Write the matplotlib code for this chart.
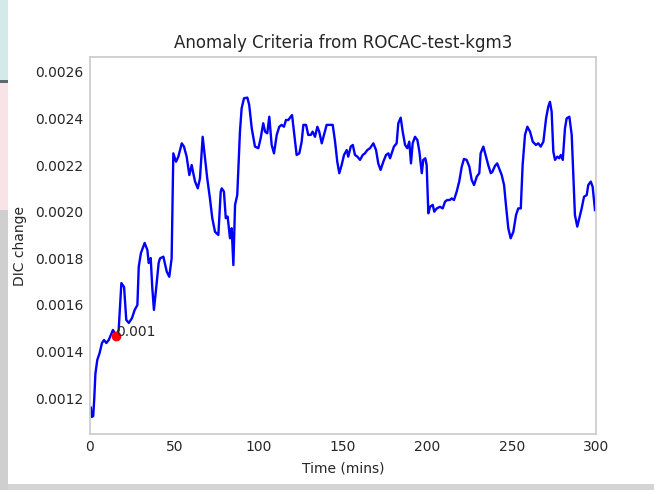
import numpy as np
import matplotlib
matplotlib.use("Agg")
import matplotlib.pyplot as plt
from matplotlib.patches import Rectangle

# Time since start (minutes) and the DIC change anomaly criterion
time_mins = [
    0.5, 1.0, 1.9, 2.5, 3.2, 4.3, 5.7, 7.1, 8.3, 9.7, 11.1, 12.3, 13.6, 14.6, 15.6,
    17.0, 18.6, 20.2, 21.5, 23.0, 24.9, 26.5, 28.1, 28.9, 30.2, 32.4, 34.0, 34.8,
    36.0, 36.9, 37.9, 39.3, 40.7, 41.5, 43.5, 45.5, 47.0, 48.4, 49.4, 51.0, 52.4,
    54.4, 55.7, 57.3, 58.9, 60.3, 61.2, 62.3, 63.9, 65.2, 66.8, 68.2, 69.5, 71.1,
    72.5, 74.1, 76.1, 77.5, 78.1, 79.4, 80.5, 81.6, 83.0, 84.0, 85.0, 86.0, 87.3,
    88.9, 89.9, 91.3, 93.3, 94.4, 95.9, 97.8, 99.8, 101.2, 102.7, 103.8, 105.1,
    106.3, 107.7, 109.1, 110.7, 112.2, 113.6, 115.0, 116.2, 117.6, 119.0, 119.8,
    120.9, 122.5, 124.1, 125.5, 126.5, 128.1, 129.4, 130.9, 132.0, 133.4, 134.8,
    135.9, 137.4, 138.7, 140.3, 142.3, 143.9, 145.3, 146.6, 147.8, 149.2, 150.6,
    152.2, 153.1, 154.6, 155.8, 157.1, 158.5, 160.1, 161.7, 163.0, 164.4, 166.0,
    168.0, 169.6, 170.9, 172.3, 173.9, 175.5, 176.9, 177.9, 180.2, 181.8, 182.8,
    184.2, 185.4, 186.8, 188.1, 189.3, 190.3, 191.3, 192.7, 194.1, 195.3, 196.7,
    197.6, 198.8, 199.6, 200.6, 201.6, 203.2, 204.1, 205.6, 207.5, 209.1, 210.5,
    211.8, 213.4, 214.4, 215.8, 217.4, 218.9, 220.4, 221.7, 223.3, 224.9, 226.3,
    227.7, 229.3, 230.8, 231.6, 233.2, 234.8, 236.1, 237.6, 238.5, 240.1, 241.4,
    244.1, 245.5, 246.6, 248.0, 249.4, 251.0, 252.6, 253.9, 255.4, 256.5, 257.9,
    259.3, 260.9, 262.5, 264.4, 265.8, 267.2, 268.8, 270.4, 271.7, 272.7, 273.7,
    274.7, 275.7, 277.1, 278.2, 279.1, 280.3, 281.6, 282.6, 284.2, 285.6, 286.5,
    287.5, 288.9, 290.1, 291.5, 292.9, 294.5, 295.4, 296.9, 298.0, 299.4,
]
dic_change = [
    0.001160, 0.001120, 0.001124, 0.001195, 0.001305, 0.001364, 0.001394, 0.001437,
    0.001450, 0.001437, 0.001450, 0.001471, 0.001493, 0.001480, 0.001467, 0.001493,
    0.001694, 0.001677, 0.001536, 0.001523, 0.001544, 0.001579, 0.001600, 0.001764,
    0.001823, 0.001866, 0.001836, 0.001780, 0.001801, 0.001677, 0.001579, 0.001677,
    0.001780, 0.001800, 0.001807, 0.001743, 0.001721, 0.001800, 0.002250, 0.002214,
    0.002236, 0.002293, 0.002279, 0.002236, 0.002157, 0.002200, 0.002166, 0.002129,
    0.002100, 0.002143, 0.002321, 0.002229, 0.002143, 0.002057, 0.001972, 0.001914,
    0.001900, 0.002086, 0.002100, 0.002086, 0.001972, 0.001979, 0.001886, 0.001929,
    0.001771, 0.002029, 0.002071, 0.002343, 0.002443, 0.002486, 0.002489, 0.002457,
    0.002357, 0.002279, 0.002272, 0.002315, 0.002379, 0.002343, 0.002336, 0.002407,
    0.002286, 0.002250, 0.002329, 0.002364, 0.002372, 0.002364, 0.002393, 0.002393,
    0.002407, 0.002414, 0.002343, 0.002243, 0.002250, 0.002300, 0.002372, 0.002372,
    0.002329, 0.002329, 0.002343, 0.002321, 0.002364, 0.002343, 0.002293, 0.002329,
    0.002372, 0.002372, 0.002372, 0.002300, 0.002214, 0.002165, 0.002200, 0.002243,
    0.002264, 0.002236, 0.002279, 0.002286, 0.002243, 0.002236, 0.002222, 0.002243,
    0.002250, 0.002264, 0.002272, 0.002293, 0.002264, 0.002207, 0.002179, 0.002214,
    0.002243, 0.002250, 0.002229, 0.002279, 0.002293, 0.002379, 0.002403, 0.002343,
    0.002286, 0.002272, 0.002300, 0.002207, 0.002293, 0.002321, 0.002307, 0.002257,
    0.002165, 0.002222, 0.002229, 0.002200, 0.001993, 0.002021, 0.002029, 0.002000,
    0.002014, 0.002021, 0.002014, 0.002043, 0.002050, 0.002050, 0.002057, 0.002050,
    0.002086, 0.002129, 0.002193, 0.002226, 0.002222, 0.002193, 0.002136, 0.002114,
    0.002150, 0.002165, 0.002250, 0.002279, 0.002236, 0.002200, 0.002165, 0.002170,
    0.002196, 0.002207, 0.002157, 0.002114, 0.002029, 0.001929, 0.001886, 0.001914,
    0.001986, 0.002014, 0.002014, 0.002200, 0.002329, 0.002364, 0.002343, 0.002300,
    0.002286, 0.002293, 0.002279, 0.002300, 0.002400, 0.002450, 0.002471, 0.002429,
    0.002257, 0.002222, 0.002236, 0.002229, 0.002243, 0.002222, 0.002357, 0.002400,
    0.002407, 0.002329, 0.002171, 0.001986, 0.001936, 0.001972, 0.002014, 0.002064,
    0.002071, 0.002114, 0.002129, 0.002107, 0.002007,
]

# Flagged anomaly point and its threshold label
anomaly_time = 15.6
anomaly_value = 0.001467
anomaly_label = "0.001"

x_ticks = [0, 50, 100, 150, 200, 250, 300]
y_ticks = [0.0012, 0.0014, 0.0016, 0.0018, 0.0020, 0.0022, 0.0024, 0.0026]

W, H = 654, 490
fig = plt.figure(figsize=(W / 100, H / 100), dpi=100)
fig.patch.set_facecolor("#d4d4d4")


def px_rect(x0, y0, x1, y1, color):
    """Rectangle given in pixel coords measured from the top-left corner."""
    fig.patches.append(Rectangle((x0 / W, 1 - y1 / H), (x1 - x0) / W, (y1 - y0) / H,
                                 transform=fig.transFigure, facecolor=color,
                                 edgecolor="none", zorder=-10))


# surrounding window backdrop
px_rect(0, 0, 8, 80, "#d3e9ea")
px_rect(0, 80, 8, 83, "#5a6b70")
px_rect(0, 83, 8, 210, "#f7e3e8")
px_rect(0, 210, 8, 490, "#cfcfcf")
px_rect(8, 0, W, 484, "white")

ax = fig.add_axes([90 / W, 1 - 434 / H, (596 - 90) / W, (434 - 57.3) / H])
ax.set_facecolor("white")

text_color = "#262626"
ax.plot(time_mins, dic_change, color="#0000ff", lw=1.7, zorder=2)
ax.plot([anomaly_time], [anomaly_value], "o", color="red", ms=6, zorder=3)
ax.text(anomaly_time, anomaly_value, anomaly_label, fontsize=10, color=text_color,
        ha="left", va="baseline", zorder=4)

ax.set_xlim(0, 300)
ax.set_ylim(0.001047, 0.0026617)
ax.set_xticks(x_ticks)
ax.set_yticks(y_ticks)
ax.set_yticklabels([f"{v:.4f}" for v in y_ticks])
ax.tick_params(length=0, pad=4.5, labelsize=10, colors=text_color)
for s in ax.spines.values():
    s.set_color("#cccccc")
    s.set_linewidth(1.25)
ax.grid(False)

ax.set_title("Anomaly Criteria from ROCAC-test-kgm3", fontsize=12, color=text_color, pad=7)
ax.set_xlabel("Time (mins)", fontsize=10, color=text_color, labelpad=5)
ax.set_ylabel("DIC change", fontsize=10, color=text_color, labelpad=6)

fig.savefig("out.png", dpi=100, facecolor=fig.get_facecolor())
